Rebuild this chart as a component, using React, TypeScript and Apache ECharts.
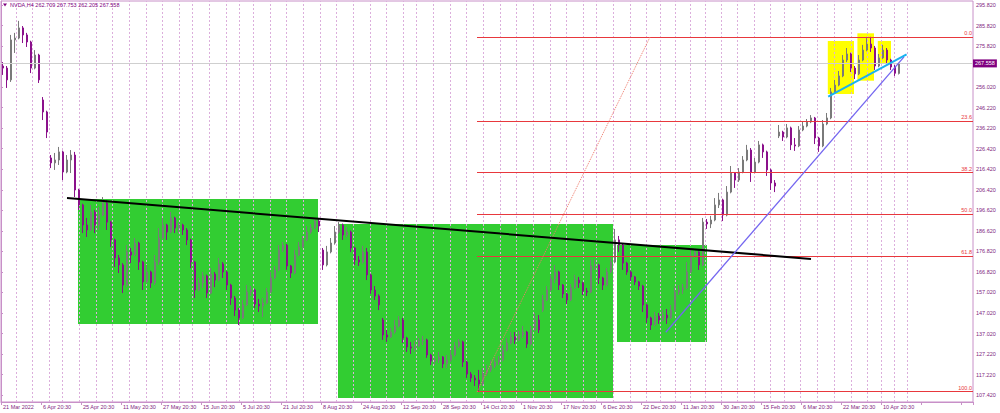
import React, { useEffect, useRef } from "react";
import * as echarts from "echarts";

const SLOTS = 243;
const headerText = "NVDA,H4 262.709 267.753 262.205 267.558";
const lastPrice = 267.558;

const dateLabels = [
  "21 Mar 2022", "6 Apr 20:30", "25 Apr 20:30", "11 May 20:30", "27 May 20:30",
  "15 Jun 20:30", "5 Jul 20:30", "21 Jul 20:30", "8 Aug 20:30", "24 Aug 20:30",
  "12 Sep 20:30", "28 Sep 20:30", "14 Oct 20:30", "1 Nov 20:30", "17 Nov 20:30",
  "6 Dec 20:30", "22 Dec 20:30", "11 Jan 20:30", "30 Jan 20:30", "15 Feb 20:30",
  "6 Mar 20:30", "22 Mar 20:30", "10 Apr 20:30",
];

const priceTicks = [
  107.42, 117.22, 127.22, 137.02, 147.02, 157.02, 166.82, 176.82, 186.62, 196.62,
  206.42, 216.42, 226.42, 236.22, 246.22, 256.02, 275.82, 285.82, 295.82,
];

// [open, close, low, high]
const candles = [
  [266.3, 265.3, 262.0, 268.2], [265.3, 259.6, 255.7, 266.3], [259.6, 278.9, 258.6, 281.3], [278.9, 279.8, 272.6, 282.3],
  [279.8, 284.7, 279.2, 288.1], [284.7, 281.3, 277.4, 285.6], [281.3, 277.9, 275.5, 282.3], [277.9, 265.3, 262.9, 278.5],
  [265.3, 271.6, 264.7, 274.0], [271.6, 259.6, 258.1, 272.2], [249.9, 244.1, 240.2, 251.3], [244.1, 234.4, 231.5, 244.7],
  [221.9, 219.5, 217.0, 223.3], [219.5, 220.9, 216.1, 224.3], [220.9, 224.8, 218.5, 227.2], [224.8, 215.1, 211.2, 225.4],
  [215.1, 220.9, 214.5, 223.3], [220.9, 223.3, 214.6, 225.7], [223.3, 206.4, 203.0, 224.8], [206.4, 199.2, 196.8, 207.0],
  [199.2, 189.5, 185.6, 199.8], [189.5, 187.1, 183.7, 192.9], [187.1, 195.8, 186.5, 199.2], [195.8, 189.5, 185.6, 196.8],
  [189.5, 194.3, 187.1, 198.2], [194.3, 200.1, 193.7, 203.0], [200.1, 190.9, 187.1, 201.6], [190.9, 182.3, 178.9, 191.5],
  [182.3, 173.6, 169.2, 182.9], [173.6, 170.2, 166.3, 175.0], [170.2, 160.5, 156.6, 171.1], [160.5, 176.5, 159.5, 179.8],
  [176.5, 175.0, 171.1, 178.4], [175.0, 180.8, 174.4, 183.2], [180.8, 171.6, 167.8, 181.4], [171.6, 162.0, 158.1, 172.2],
  [162.0, 166.8, 161.4, 170.2], [166.8, 161.5, 159.1, 167.4], [161.5, 171.6, 160.5, 175.0], [171.6, 183.2, 170.2, 188.0],
  [183.2, 189.5, 182.6, 192.9], [189.5, 186.1, 182.3, 190.1], [186.1, 192.9, 185.5, 195.8], [192.9, 188.0, 185.6, 193.5],
  [188.0, 189.5, 185.6, 190.9], [189.5, 187.1, 184.7, 190.1], [187.1, 182.3, 179.8, 188.0], [182.3, 171.6, 168.7, 182.9],
  [171.6, 158.1, 154.2, 172.2], [158.1, 161.5, 157.5, 163.9], [161.5, 164.9, 159.1, 166.8], [164.9, 156.6, 154.2, 165.5],
  [156.6, 165.8, 156.0, 168.7], [165.8, 162.9, 159.5, 166.8], [162.9, 170.7, 162.3, 173.6], [170.7, 166.8, 163.9, 171.6],
  [166.8, 160.5, 158.1, 167.4], [160.5, 154.2, 150.9, 161.1], [154.2, 148.4, 145.5, 155.2], [148.4, 144.6, 141.2, 149.4],
  [144.6, 150.9, 144.0, 153.3], [150.9, 157.1, 150.3, 160.5], [157.1, 158.1, 155.2, 160.0], [158.1, 151.3, 149.4, 158.7],
  [151.3, 150.4, 147.5, 153.8], [150.4, 151.8, 145.1, 154.2], [151.8, 157.1, 151.2, 159.1], [157.1, 163.9, 156.5, 166.8],
  [163.9, 167.8, 163.3, 169.7], [167.8, 177.4, 167.2, 179.8], [177.4, 179.8, 176.5, 181.3], [179.8, 169.7, 167.8, 180.4],
  [169.7, 166.3, 163.9, 170.2], [166.3, 175.0, 165.7, 177.4], [175.0, 178.9, 174.4, 181.3], [178.9, 182.3, 178.3, 184.2],
  [182.3, 186.1, 181.7, 189.0], [186.1, 188.0, 185.2, 190.0], [188.0, 191.4, 187.4, 192.4], [191.4, 189.0, 186.1, 192.4],
  [177.4, 170.2, 167.8, 178.4], [170.2, 176.5, 169.5, 179.4], [176.5, 180.8, 175.8, 183.2], [180.8, 186.1, 180.0, 189.0],
  [186.1, 189.5, 185.3, 190.9], [189.5, 184.7, 182.3, 190.2], [184.7, 186.1, 183.7, 188.5], [186.1, 178.4, 176.5, 186.8],
  [178.4, 172.6, 170.2, 179.0], [172.6, 171.6, 169.7, 174.5], [171.6, 176.5, 170.8, 179.4], [176.5, 165.4, 162.9, 178.4],
  [165.4, 158.1, 156.2, 166.0], [158.1, 155.2, 153.3, 160.0], [155.2, 150.9, 148.4, 156.0], [143.6, 136.4, 134.0, 144.6],
  [136.4, 135.4, 133.0, 138.8], [135.4, 137.8, 134.9, 139.7], [137.8, 140.7, 137.0, 143.6], [140.7, 143.6, 140.0, 145.5],
  [143.6, 134.9, 132.5, 144.6], [134.9, 130.6, 128.2, 135.5], [130.6, 130.1, 127.2, 133.0], [130.1, 131.0, 128.2, 133.5],
  [131.0, 133.5, 130.4, 134.9], [133.5, 134.0, 131.5, 135.9], [134.0, 126.7, 125.3, 134.6], [126.7, 123.8, 121.9, 127.3],
  [123.8, 124.3, 121.9, 125.7], [124.3, 125.7, 122.8, 128.2], [125.7, 122.4, 120.4, 126.2], [122.4, 124.3, 120.4, 126.7],
  [124.3, 126.7, 123.3, 129.1], [126.7, 131.0, 126.0, 133.0], [131.0, 133.0, 130.1, 134.4], [133.0, 123.3, 120.9, 133.6],
  [123.3, 117.5, 115.6, 124.0], [117.5, 115.6, 113.7, 118.5], [115.6, 114.6, 111.7, 117.0], [114.6, 112.7, 108.8, 119.5],
  [112.7, 118.0, 111.7, 120.4], [118.0, 119.5, 116.6, 121.9], [119.5, 121.4, 118.5, 124.3], [121.4, 123.3, 120.4, 125.3],
  [123.3, 124.3, 121.9, 126.2], [124.3, 129.1, 123.6, 131.5], [129.1, 132.5, 128.4, 134.9], [132.5, 135.4, 131.8, 137.8],
  [135.4, 134.0, 132.0, 137.8], [134.0, 136.4, 133.4, 138.3], [136.4, 137.8, 134.9, 140.7], [137.8, 132.0, 130.1, 138.4],
  [132.0, 138.8, 131.4, 140.7], [138.8, 143.6, 138.2, 147.0], [143.6, 138.8, 137.3, 146.0], [148.4, 153.3, 147.5, 155.7],
  [153.3, 158.1, 152.7, 160.0], [158.1, 163.4, 157.5, 165.4], [163.4, 166.8, 161.5, 170.2], [166.8, 160.5, 158.1, 167.4],
  [160.5, 156.2, 154.2, 161.0], [156.2, 153.3, 151.3, 156.8], [153.3, 159.1, 152.7, 161.0], [159.1, 162.9, 158.5, 165.4],
  [162.9, 161.5, 159.1, 164.4], [161.5, 157.6, 155.7, 162.1], [157.6, 157.1, 155.2, 159.1], [157.1, 169.7, 156.5, 172.6],
  [169.7, 170.2, 167.8, 173.1], [170.2, 163.9, 161.0, 170.8], [163.9, 160.5, 158.1, 164.5], [160.5, 166.8, 159.8, 168.7],
  [166.8, 171.6, 166.2, 173.6], [171.6, 182.3, 171.0, 187.6], [182.3, 179.8, 176.5, 184.2], [179.8, 171.1, 167.8, 180.4],
  [171.1, 166.8, 165.4, 171.7], [166.8, 164.4, 162.5, 167.4], [164.4, 162.0, 160.5, 164.9], [162.0, 160.0, 158.1, 162.5],
  [160.0, 150.9, 147.5, 160.6], [150.9, 144.6, 142.2, 151.5], [144.6, 141.2, 138.8, 145.2], [141.2, 145.5, 140.6, 147.5],
  [145.5, 143.6, 141.7, 147.0], [143.6, 146.0, 143.0, 148.4], [146.0, 144.6, 141.7, 148.9], [144.6, 148.4, 144.0, 150.9],
  [148.4, 157.1, 147.8, 160.0], [157.1, 158.1, 155.7, 160.5], [158.1, 159.1, 156.2, 161.0], [159.1, 166.8, 158.5, 171.6],
  [166.8, 174.5, 166.2, 177.9], [174.5, 176.5, 173.6, 178.4], [176.5, 170.2, 167.8, 177.1], [170.2, 190.9, 169.6, 192.9],
  [190.9, 190.0, 187.6, 192.4], [190.0, 191.9, 188.0, 193.9], [191.9, 199.2, 191.3, 202.5], [199.2, 201.6, 197.7, 205.0],
  [201.6, 194.3, 191.4, 202.2], [194.3, 205.4, 193.7, 208.3], [205.4, 214.6, 204.8, 218.0], [214.6, 211.2, 207.4, 215.1],
  [211.2, 215.1, 210.3, 217.0], [215.1, 220.9, 214.5, 222.8], [220.9, 225.7, 220.3, 228.2], [225.7, 215.1, 210.3, 226.7],
  [215.1, 219.9, 214.5, 221.9], [219.9, 228.2, 219.3, 230.1], [228.2, 224.8, 221.9, 228.8], [224.8, 216.1, 213.2, 225.4],
  [216.1, 209.8, 206.4, 216.7], [209.8, 208.3, 205.4, 211.2], [232.5, 234.4, 231.5, 237.8], [234.4, 232.0, 230.1, 235.0],
  [232.0, 236.4, 231.4, 238.3], [236.4, 228.2, 225.7, 237.0], [228.2, 227.7, 225.3, 231.5], [227.7, 235.4, 227.1, 237.3],
  [235.4, 237.3, 234.8, 239.3], [237.3, 239.3, 236.7, 240.7], [239.3, 241.2, 238.7, 242.6], [241.2, 231.5, 228.6, 241.7],
  [231.5, 227.7, 224.8, 232.1], [227.7, 238.3, 227.1, 240.2], [238.3, 241.2, 237.7, 243.6], [241.2, 253.8, 240.6, 255.7],
  [253.8, 257.1, 253.2, 259.6], [257.1, 261.5, 256.5, 263.9], [261.5, 269.2, 260.9, 271.6], [269.2, 272.1, 268.2, 275.0],
  [272.1, 265.3, 263.4, 272.7], [265.3, 262.5, 260.0, 266.3], [262.5, 269.2, 261.9, 271.6], [269.2, 274.0, 268.6, 276.5],
  [274.0, 276.9, 273.4, 279.8], [276.9, 275.0, 273.1, 280.4], [275.0, 266.3, 264.4, 276.0], [266.3, 270.2, 265.7, 272.1],
  [270.2, 274.0, 269.6, 276.5], [274.0, 269.2, 267.3, 275.0], [269.2, 265.8, 264.4, 269.8], [265.8, 262.8, 261.5, 266.8],
  [262.709, 267.558, 262.205, 267.753],
];

// Fibonacci retracement (values)
const fibNames = ["0.0", "23.6", "38.2", "50.0", "61.8", "100.0"];
const fibLevels = [280.2, 239.8, 214.8, 194.6, 174.4, 109.0];
const fibStartSlot = 119;
const fibEndSlot = 243;
const fibDiagonal = [[119, 108.8], [162.25, 280.3]];

// weekly period separators (slot units)
const weekSeparators = [
  3.75, 7.93, 12.08, 15.43, 19.58, 23.75, 27.93, 32.08, 36.25, 40.43, 44.58, 47.93, 52.08, 56.25, 59.58,
  63.08, 67.25, 71.43, 75.58, 79.75, 83.93, 88.08, 92.25, 96.43, 100.58, 103.93, 108.08, 112.25, 116.43,
  120.58, 124.75, 128.93, 133.08, 137.25, 141.43, 145.58, 148.93, 153.08, 157.25, 161.43, 164.75, 168.5,
  172.25, 176.0, 180.0, 184.0, 188.25, 192.43, 195.75, 199.93, 204.13, 208.25, 212.5, 216.63, 220.0, 223.25, 226.63,
];

// boxes: [x1, yTop, x2, yBottom] in slot / price units
const greenBoxes = [
  [19.25, 202.1, 79.25, 141.7],
  [84.25, 190.0, 153.0, 105.9],
  [154.0, 179.8, 176.5, 133.0],
];
const yellowBoxes = [
  [206.7, 278.4, 213.25, 252.8],
  [214.1, 282.1, 218.25, 259.2],
  [219.2, 278.4, 222.5, 267.8],
];

const blackTrend = [[16.5, 202.5], [202.5, 173.1]];
const violetTrend = [[166.2, 137.7], [225.75, 270.7]];
const cyanTrend = [[206.8, 251.5], [226.4, 271.9]];

const FONT = "Liberation Sans";
const PURPLE = "#7f1f7f";
const FRAME = "#c890c8";
const FIB_RED = "#e8383d";

export default function App() {
  const ref = useRef<HTMLDivElement>(null);

  useEffect(() => {
    if (!ref.current) return;
    const chart = echarts.init(ref.current, null, { renderer: "svg" });
    const categories = Array.from({ length: SLOTS }, (_, i) => String(i));

    const line = (pts: number[][], style: any) => [
      { coord: pts[0], lineStyle: style },
      { coord: pts[1] },
    ];

    const fibLines = fibLevels.map((lv, i) => [
      {
        coord: [fibStartSlot, lv],
        label: {
          show: true,
          position: "insideEndTop",
          formatter: fibNames[i],
          color: FIB_RED,
          fontSize: 5.5,
          fontFamily: FONT,
          distance: 1,
        },
      },
      { coord: [fibEndSlot, lv] },
    ]);

    const boxes = (list: number[][], color: string) =>
      list.map((b) => [
        { coord: [b[0], b[1]], itemStyle: { color, opacity: 1 } },
        { coord: [b[2], b[3]] },
      ]);

    chart.setOption({
      animation: false,
      backgroundColor: "#ffffff",
      textStyle: { fontFamily: FONT },
      title: {
        text: headerText,
        left: 10,
        top: 2,
        padding: 0,
        textStyle: { fontSize: 5.5, color: "#800080", fontWeight: "normal", fontFamily: FONT },
      },
      graphic: [
        {
          type: "polygon",
          shape: { points: [[3, 3.5], [7, 3.5], [5, 6.5]] },
          style: { fill: "#800080" },
        },
      ],
      grid: {
        left: 1,
        right: 27,
        top: 1,
        bottom: 11,
        show: true,
        borderColor: FRAME,
        borderWidth: 1,
      },
      xAxis: [
        {
          type: "category",
          data: categories,
          boundaryGap: true,
          axisLine: { lineStyle: { color: FRAME } },
          axisTick: {
            show: true,
            interval: (i: number) => i % 10 === 0,
            length: 3,
            lineStyle: { color: FRAME },
          },
          axisLabel: {
            interval: (i: number) => i % 10 === 0 && i / 10 < dateLabels.length,
            formatter: (_v: string, i: number) => dateLabels[i / 10] ?? "",
            align: "left",
            fontSize: 5.5,
            color: PURPLE,
            margin: 2,
            fontFamily: FONT,
          },
          splitLine: { show: false },
        },
        {
          type: "value",
          min: 0,
          max: SLOTS,
          show: false,
          splitLine: { show: false },
        },
      ],
      yAxis: {
        type: "value",
        position: "right",
        min: 104.0,
        max: 297.7,
        axisLine: { show: true, lineStyle: { color: FRAME } },
        axisTick: { show: true, length: 2, customValues: priceTicks, lineStyle: { color: FRAME } },
        axisLabel: {
          customValues: priceTicks,
          formatter: (v: number) => v.toFixed(3),
          fontSize: 5.5,
          color: PURPLE,
          margin: 3,
          fontFamily: FONT,
        },
        splitLine: { show: false },
      },
      series: [
        {
          name: "areas",
          type: "line",
          xAxisIndex: 1,
          yAxisIndex: 0,
          data: [],
          silent: true,
          markArea: {
            silent: true,
            data: [...boxes(greenBoxes, "#32cd32"), ...boxes(yellowBoxes, "#ffff00")],
          },
          markLine: {
            silent: true,
            symbol: "none",
            z: 1.5,
            label: { show: false },
            lineStyle: { color: "#dcaedc", width: 1, type: [2, 2] },
            data: weekSeparators.map((x) => ({ xAxis: x })),
          },
        },
        {
          name: "NVDA",
          type: "candlestick",
          xAxisIndex: 0,
          yAxisIndex: 0,
          data: candles,
          barWidth: 2.4,
          itemStyle: {
            color: "#b0b0b0",
            color0: "#8b108b",
            borderColor: "#7a7a7a",
            borderColor0: "#8b108b",
            borderWidth: 1,
          },
          markLine: {
            silent: true,
            symbol: "none",
            data: [{ yAxis: lastPrice }],
            lineStyle: { color: "#cfcfcf", width: 1, type: "solid" },
            label: {
              show: true,
              position: "end",
              formatter: lastPrice.toFixed(3),
              color: "#ffffff",
              backgroundColor: "#800080",
              padding: [1, 2, 1, 2],
              fontSize: 5.5,
              fontFamily: FONT,
              distance: 0,
            },
          },
        },
        {
          name: "fib",
          type: "line",
          xAxisIndex: 1,
          yAxisIndex: 0,
          data: [],
          silent: true,
          color: FIB_RED,
          markLine: {
            silent: true,
            symbol: "none",
            lineStyle: { color: FIB_RED, width: 1, type: "solid", opacity: 1 },
            label: { show: false },
            data: fibLines,
          },
        },
        {
          name: "lines",
          type: "line",
          xAxisIndex: 1,
          yAxisIndex: 0,
          data: [],
          silent: true,
          markLine: {
            silent: true,
            symbol: "none",
            label: { show: false },
            data: [
              line(fibDiagonal, { color: "#f07a6a", width: 1, type: "dotted" }),
              line(blackTrend, { color: "#000000", width: 2, type: "solid" }),
              line(violetTrend, { color: "#7466f0", width: 1.3, type: "solid" }),
              line(cyanTrend, { color: "#1ab2f0", width: 2, type: "solid" }),
            ],
          },
        },
      ],
    });

    return () => chart.dispose();
  }, []);

  return (
    <div
      ref={ref}
      style={{ position: "fixed", left: 0, top: 0, width: 1000, height: 413, background: "#fff" }}
    />
  );
}
